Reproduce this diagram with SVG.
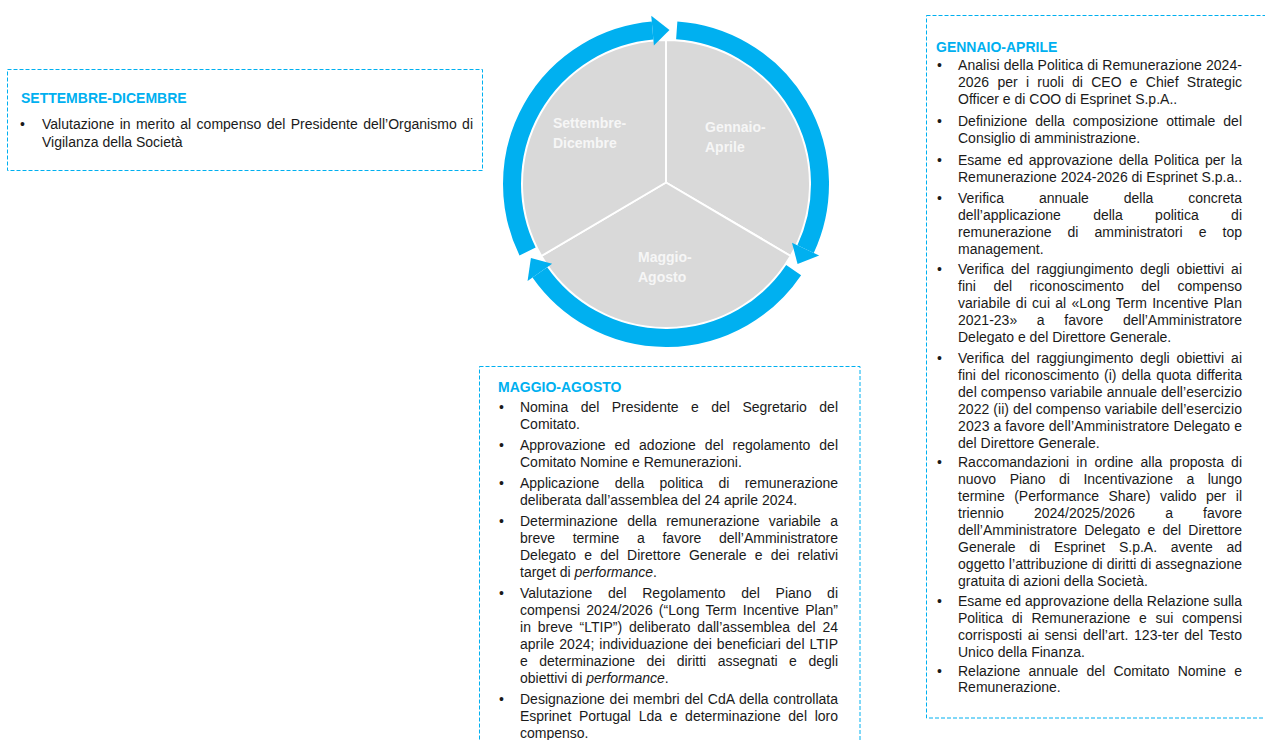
<svg xmlns="http://www.w3.org/2000/svg" width="1265" height="740" viewBox="0 0 1265 740">
<style>
.t{font-family:"Liberation Sans",Arial,sans-serif;font-size:14px;fill:#1a1a1a}
.h{font-family:"Liberation Sans",Arial,sans-serif;font-size:14px;font-weight:bold;fill:#00B0F0}
.lbl{font-family:"Liberation Sans",Arial,sans-serif;font-size:14px;font-weight:bold;fill:#F6F6F6}
.box{fill:none;stroke:#00B0F0;stroke-width:1;stroke-dasharray:4 2}
.sec{fill:#D9D9D9;stroke:#FFFFFF;stroke-width:2;stroke-linejoin:round}
.arc{fill:none;stroke:#00B0F0;stroke-width:18}
.head{fill:#00B0F0}
</style>
<rect width="1265" height="740" fill="#FFFFFF"/>

<g id="cycle">
  <g id="sector-gennaio-aprile"><path class="sec" d="M666,182.5 L666,40 A144,144 0 0 1 790.7,256 Z"/></g>
  <g id="sector-maggio-agosto"><path class="sec" d="M666,182.5 L790.7,256 A144,144 0 0 1 541.3,256 Z"/></g>
  <g id="sector-settembre-dicembre"><path class="sec" d="M666,182.5 L541.3,256 A144,144 0 0 1 666,40 Z"/></g>
</g>
<g id="cycle-labels">
  <text class="lbl" x="553" y="128">Settembre-</text>
  <text class="lbl" x="553" y="148">Dicembre</text>
  <text class="lbl" x="705" y="132">Gennaio-</text>
  <text class="lbl" x="705" y="152">Aprile</text>
  <text class="lbl" x="638" y="262">Maggio-</text>
  <text class="lbl" x="638" y="282">Agosto</text>
</g>

<g id="connectors">
  <path class="arc" d="M676.74,30.38 A154,154 0 0 1 805.57,249.08"/>
  <polygon class="head" points="791.98,242.74 819.17,255.42 797.58,264.01"/>
  <path class="arc" d="M793.67,270.12 A154,154 0 0 1 539.85,272.33"/>
  <polygon class="head" points="552.14,263.73 527.56,280.93 530.92,257.95"/>
  <path class="arc" d="M527.59,251.51 A154,154 0 0 1 652.58,30.59"/>
  <polygon class="head" points="653.89,45.53 651.27,15.64 669.49,30.04"/>
</g>

<g id="box-settembre-dicembre">
  <rect class="box" x="7.5" y="69.5" width="475" height="101"/>
  <text class="h" x="21" y="103">SETTEMBRE-DICEMBRE</text>
  <text class="t" x="20" y="128.5">•</text>
  <text class="t" x="42" y="128.5" textLength="431" lengthAdjust="spacing" style="word-spacing:1.5px">Valutazione in merito al compenso del Presidente dell’Organismo di</text>
  <text class="t" x="42" y="147">Vigilanza della Società</text>
</g>

<g id="box-gennaio-aprile">
  <rect class="box" x="926.5" y="15.5" width="360" height="702.5"/>
  <text class="h" x="936" y="52">GENNAIO-APRILE</text>
  <text class="t" x="937" y="70">•</text>
  <text class="t" x="958" y="70" textLength="284" lengthAdjust="spacing">Analisi della Politica di Remunerazione 2024-</text>
  <text class="t" x="958" y="87" textLength="284" lengthAdjust="spacing" style="word-spacing:4.4px">2026 per i ruoli di CEO e Chief Strategic</text>
  <text class="t" x="958" y="104">Officer e di COO di Esprinet S.p.A..</text>

  <text class="t" x="937" y="126">•</text>
  <text class="t" x="958" y="126" textLength="284" lengthAdjust="spacing" style="word-spacing:4.1px">Definizione della composizione ottimale del</text>
  <text class="t" x="958" y="143">Consiglio di amministrazione.</text>

  <text class="t" x="937" y="165">•</text>
  <text class="t" x="958" y="165" textLength="284" lengthAdjust="spacing" style="word-spacing:2px">Esame ed approvazione della Politica per la</text>
  <text class="t" x="958" y="182">Remunerazione 2024-2026 di Esprinet S.p.a..</text>

  <text class="t" x="937" y="203">•</text>
  <text class="t" x="958" y="203" textLength="284" lengthAdjust="spacing" style="word-spacing:30.9px">Verifica annuale della concreta</text>
  <text class="t" x="958" y="220" textLength="284" lengthAdjust="spacing" style="word-spacing:28.5px">dell’applicazione della politica di</text>
  <text class="t" x="958" y="237" textLength="284" lengthAdjust="spacing" style="word-spacing:12.2px">remunerazione di amministratori e top</text>
  <text class="t" x="958" y="254">management.</text>

  <text class="t" x="937" y="274">•</text>
  <text class="t" x="958" y="274" textLength="284" lengthAdjust="spacing" style="word-spacing:3px">Verifica del raggiungimento degli obiettivi ai</text>
  <text class="t" x="958" y="291" textLength="284" lengthAdjust="spacing" style="word-spacing:13.6px">fini del riconoscimento del compenso</text>
  <text class="t" x="958" y="308" textLength="284" lengthAdjust="spacing" style="word-spacing:1.3px">variabile di cui al «Long Term Incentive Plan</text>
  <text class="t" x="958" y="325" textLength="284" lengthAdjust="spacing" style="word-spacing:15.8px">2021-23» a favore dell’Amministratore</text>
  <text class="t" x="958" y="342">Delegato e del Direttore Generale.</text>

  <text class="t" x="937" y="363">•</text>
  <text class="t" x="958" y="363" textLength="284" lengthAdjust="spacing" style="word-spacing:3px">Verifica del raggiungimento degli obiettivi ai</text>
  <text class="t" x="958" y="380" textLength="284" lengthAdjust="spacing" style="word-spacing:1.2px">fini del riconoscimento (i) della quota differita</text>
  <text class="t" x="958" y="397" textLength="284" lengthAdjust="spacing">del compenso variabile annuale dell’esercizio</text>
  <text class="t" x="958" y="414" textLength="284" lengthAdjust="spacing">2022 (ii) del compenso variabile dell’esercizio</text>
  <text class="t" x="958" y="431" textLength="284" lengthAdjust="spacing">2023 a favore dell’Amministratore Delegato e</text>
  <text class="t" x="958" y="448">del Direttore Generale.</text>

  <text class="t" x="937" y="467">•</text>
  <text class="t" x="958" y="467" textLength="284" lengthAdjust="spacing" style="word-spacing:3.3px">Raccomandazioni in ordine alla proposta di</text>
  <text class="t" x="958" y="484" textLength="284" lengthAdjust="spacing" style="word-spacing:9.6px">nuovo Piano di Incentivazione a lungo</text>
  <text class="t" x="958" y="501" textLength="284" lengthAdjust="spacing" style="word-spacing:5.6px">termine (Performance Share) valido per il</text>
  <text class="t" x="958" y="518" textLength="284" lengthAdjust="spacing" style="word-spacing:26.2px">triennio 2024/2025/2026 a favore</text>
  <text class="t" x="958" y="535" textLength="284" lengthAdjust="spacing" style="word-spacing:3.3px">dell’Amministratore Delegato e del Direttore</text>
  <text class="t" x="958" y="552" textLength="284" lengthAdjust="spacing" style="word-spacing:9.8px">Generale di Esprinet S.p.A. avente ad</text>
  <text class="t" x="958" y="569" textLength="284" lengthAdjust="spacing">oggetto l’attribuzione di diritti di assegnazione</text>
  <text class="t" x="958" y="586">gratuita di azioni della Società.</text>

  <text class="t" x="937" y="606">•</text>
  <text class="t" x="958" y="606" textLength="284" lengthAdjust="spacing">Esame ed approvazione della Relazione sulla</text>
  <text class="t" x="958" y="623" textLength="284" lengthAdjust="spacing" style="word-spacing:4.8px">Politica di Remunerazione e sui compensi</text>
  <text class="t" x="958" y="640" textLength="284" lengthAdjust="spacing" style="word-spacing:1.7px">corrisposti ai sensi dell’art. 123-ter del Testo</text>
  <text class="t" x="958" y="657">Unico della Finanza.</text>

  <text class="t" x="937" y="676">•</text>
  <text class="t" x="958" y="676" textLength="284" lengthAdjust="spacing" style="word-spacing:4.4px">Relazione annuale del Comitato Nomine e</text>
  <text class="t" x="958" y="692">Remunerazione.</text>
</g>

<g id="box-maggio-agosto">
  <rect class="box" x="479.5" y="366.5" width="380.5" height="400"/>
  <text class="h" x="498" y="391.5">MAGGIO-AGOSTO</text>
  <text class="t" x="499" y="412">•</text>
  <text class="t" x="520" y="412" textLength="318" lengthAdjust="spacing" style="word-spacing:8.6px">Nomina del Presidente e del Segretario del</text>
  <text class="t" x="520" y="429">Comitato.</text>

  <text class="t" x="499" y="450">•</text>
  <text class="t" x="520" y="450" textLength="318" lengthAdjust="spacing" style="word-spacing:5.1px">Approvazione ed adozione del regolamento del</text>
  <text class="t" x="520" y="467">Comitato Nomine e Remunerazioni.</text>

  <text class="t" x="499" y="488">•</text>
  <text class="t" x="520" y="488" textLength="318" lengthAdjust="spacing" style="word-spacing:11.5px">Applicazione della politica di remunerazione</text>
  <text class="t" x="520" y="505">deliberata dall’assemblea del 24 aprile 2024.</text>

  <text class="t" x="499" y="526">•</text>
  <text class="t" x="520" y="526" textLength="318" lengthAdjust="spacing" style="word-spacing:5.5px">Determinazione della remunerazione variabile a</text>
  <text class="t" x="520" y="543" textLength="318" lengthAdjust="spacing" style="word-spacing:13.8px">breve termine a favore dell’Amministratore</text>
  <text class="t" x="520" y="560" textLength="318" lengthAdjust="spacing" style="word-spacing:4.3px">Delegato e del Direttore Generale e dei relativi</text>
  <text class="t" x="520" y="577">target di <tspan font-style="italic">performance</tspan>.</text>

  <text class="t" x="499" y="598">•</text>
  <text class="t" x="520" y="598" textLength="318" lengthAdjust="spacing" style="word-spacing:11.7px">Valutazione del Regolamento del Piano di</text>
  <text class="t" x="520" y="615" textLength="318" lengthAdjust="spacing" style="word-spacing:2.2px">compensi 2024/2026 (“Long Term Incentive Plan”</text>
  <text class="t" x="520" y="632" textLength="318" lengthAdjust="spacing" style="word-spacing:2.9px">in breve “LTIP”) deliberato dall’assemblea del 24</text>
  <text class="t" x="520" y="649" textLength="318" lengthAdjust="spacing" style="word-spacing:1px">aprile 2024; individuazione dei beneficiari del LTIP</text>
  <text class="t" x="520" y="666" textLength="318" lengthAdjust="spacing" style="word-spacing:7.6px">e determinazione dei diritti assegnati e degli</text>
  <text class="t" x="520" y="683">obiettivi di <tspan font-style="italic">performance</tspan>.</text>

  <text class="t" x="499" y="704">•</text>
  <text class="t" x="520" y="704" textLength="318" lengthAdjust="spacing" style="word-spacing:0.8px">Designazione dei membri del CdA della controllata</text>
  <text class="t" x="520" y="721" textLength="318" lengthAdjust="spacing" style="word-spacing:3.8px">Esprinet Portugal Lda e determinazione del loro</text>
  <text class="t" x="520" y="738">compenso.</text>
</g>
</svg>
